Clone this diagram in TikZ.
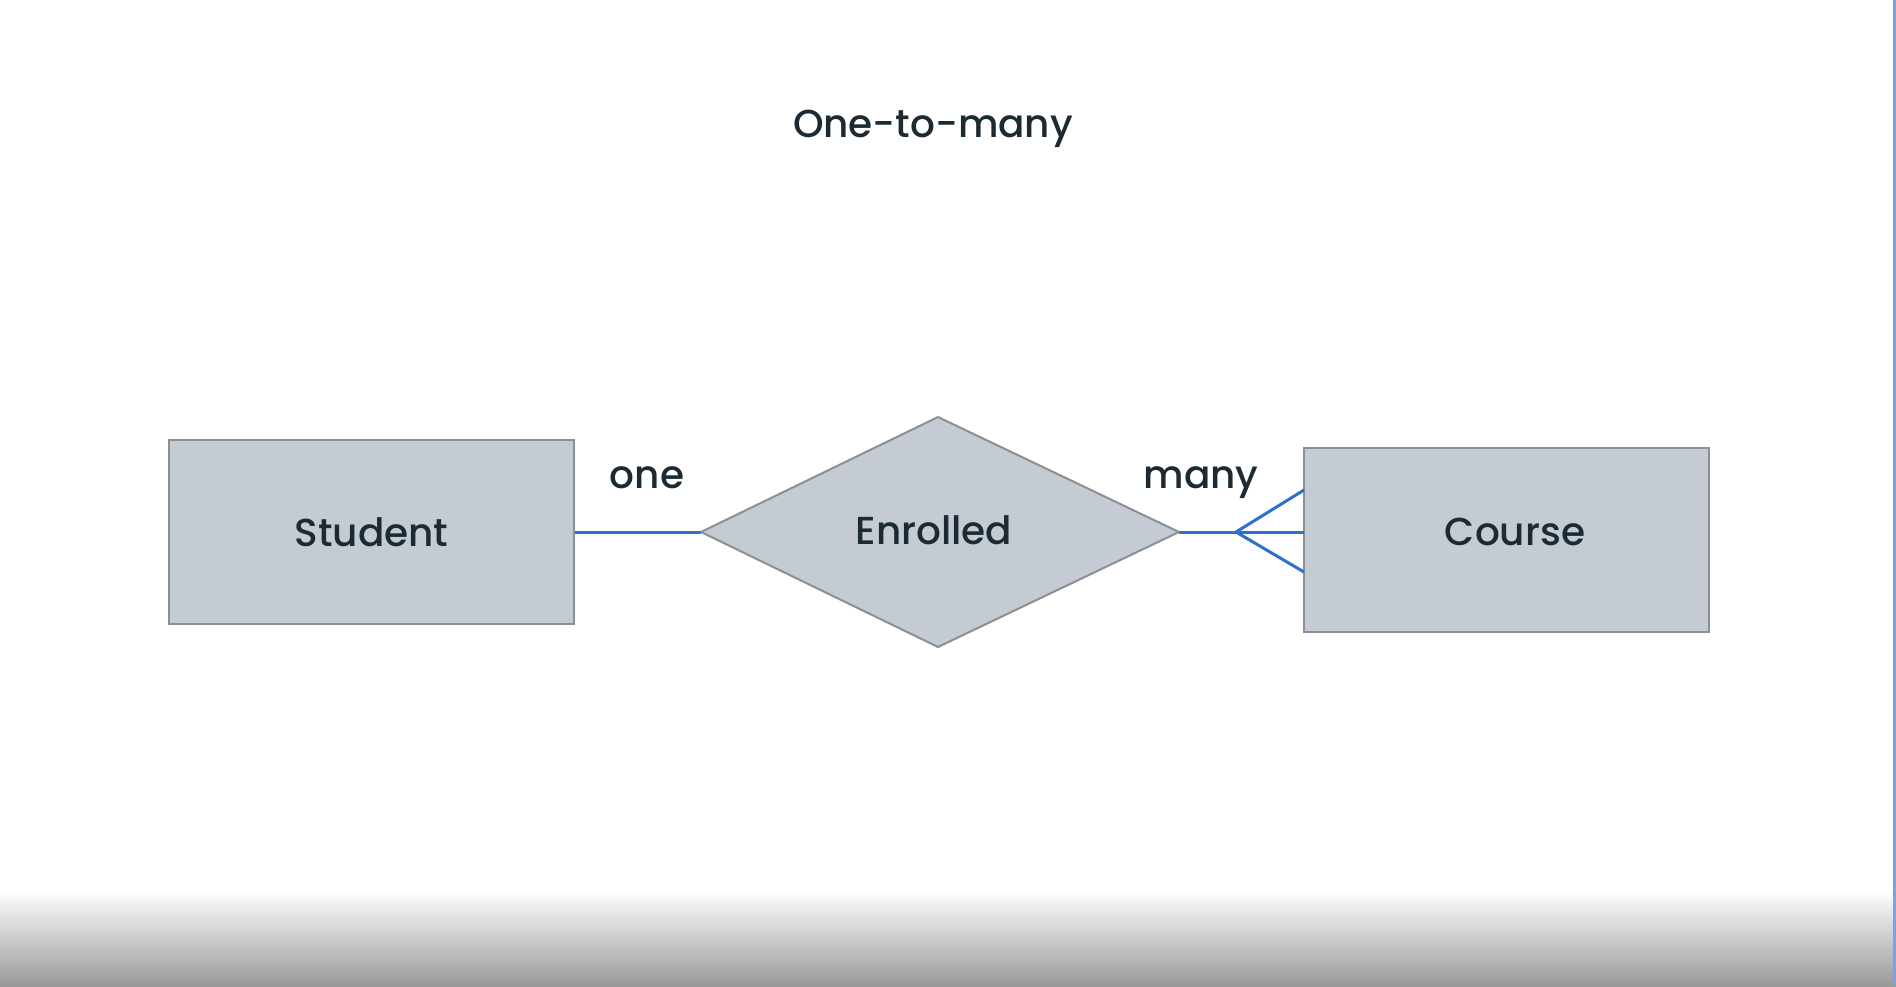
\documentclass[tikz,border=0pt]{standalone}
\usepackage{fontspec}
\setmainfont{Poppins}[UprightFont=* Medium]
\usetikzlibrary{shapes.geometric}
\definecolor{boxfill}{HTML}{C5CBD3}
\definecolor{boxline}{HTML}{8C8F93}
\definecolor{linkblue}{HTML}{2F6FCE}
\definecolor{txt}{HTML}{1C2B33}
\definecolor{edgeblue}{HTML}{7AA3E0}
\begin{document}
\begin{tikzpicture}[x=1pt,y=-1pt,
  entity/.style={draw=boxline,line width=2pt,fill=boxfill,minimum width=405pt,minimum height=184pt,inner sep=0pt,font=\fontsize{39}{44}\selectfont,text=txt},
  lbl/.style={font=\fontsize{39}{44}\selectfont,text=txt,inner sep=0pt},
  link/.style={draw=linkblue,line width=3pt}]
\useasboundingbox (0,0) rectangle (1896,986);
\fill[white] (0,0) rectangle (1896,986);
\shade[top color=white,bottom color=black!40] (0,890) rectangle (1896,986);
\fill[edgeblue] (1893,0) rectangle (1896,986);
\node[lbl] (title) at (933,129) {One-to-many};
\node[entity] (student) at (371.5,532) {Student};
\node[entity] (course) at (1506.5,540) {};
\node[lbl] (courselbl) at (1515,532) {Course};
\draw[draw=boxline,line width=2pt,fill=boxfill,line join=round] (701,532) -- (938,417) -- (1179,532) -- (938,647) -- cycle;
\node[lbl] (rel) at (934,530) {Enrolled};
\coordinate (dl) at (701,532);
\coordinate (dr) at (1179,532);
\coordinate (crow) at (1236,532);
\coordinate (cu) at (1304,490);
\coordinate (cm) at (1304,532);
\coordinate (cd) at (1304,572);
\node[lbl,anchor=base] (one) at (647,488) {one};
\node[lbl,anchor=base] (many) at (1201,488) {many};
\draw[link] (student.east |- dl) -- (dl);
\draw[link] (dr) -- (crow);
\draw[link,line join=round] (cu) -- (crow) -- (cd);
\draw[link] (crow) -- (cm);
\end{tikzpicture}
\end{document}
